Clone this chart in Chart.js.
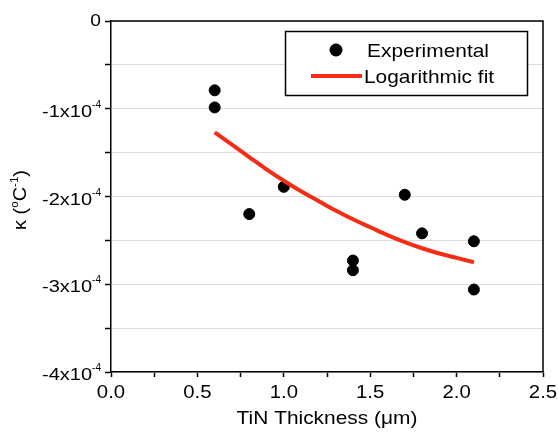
<!DOCTYPE html>
<html>
<head>
<meta charset="utf-8">
<script src="https://cdn.jsdelivr.net/npm/chart.js@4/dist/chart.umd.min.js"></script>
<style>
    html, body { margin: 0; padding: 0; background: #fff; }
</style>
</head>
<body>
<canvas id="chart" width="558" height="437"></canvas>
<script>
// Datos experimentales (TiN thickness en um, kappa en 1/°C)
var expX = [0.6, 0.6, 0.8, 1.0, 1.4, 1.4, 1.7, 1.8, 2.1, 2.1];
var expY = [-0.79e-4, -0.985e-4, -2.20e-4, -1.89e-4, -2.73e-4, -2.84e-4, -1.98e-4, -2.42e-4, -2.51e-4, -3.06e-4];

// Curva de ajuste logaritmico
var fitX = [0.6, 0.7, 0.8, 0.9, 1.0, 1.1, 1.2, 1.3, 1.4, 1.5, 1.6, 1.7, 1.8, 1.9, 2.0, 2.1];
var fitY = [-1.27e-4, -1.41e-4, -1.55e-4, -1.69e-4, -1.82e-4, -1.94e-4, -2.05e-4, -2.16e-4,
            -2.26e-4, -2.35e-4, -2.44e-4, -2.52e-4, -2.59e-4, -2.65e-4, -2.70e-4, -2.75e-4];

// Etiquetas de los ejes
var xTickValues = [0, 0.5, 1.0, 1.5, 2.0, 2.5];
var xTickLabels = ["0.0", "0.5", "1.0", "1.5", "2.0", "2.5"];
var yTickValues = [0, -1e-4, -2e-4, -3e-4, -4e-4];
var yTickMantissa = ["0", "-1", "-2", "-3", "-4"];

var FONT = "'Liberation Sans', Arial, Helvetica, sans-serif";
var FIT_COLOR = "rgb(245, 45, 20)";

function toPoints(xs, ys) {
    return xs.map(function (x, i) { return { x: x, y: ys[i] }; });
}

// Texto con estiramiento horizontal (la figura original es algo mas ancha)
function drawText(ctx, str, x, y, size, align, sx) {
    ctx.save();
    ctx.font = size + "px " + FONT;
    ctx.fillStyle = "#000";
    ctx.textBaseline = "alphabetic";
    var w = ctx.measureText(str).width * sx;
    var x0 = align === "right" ? x - w : (align === "center" ? x - w / 2 : x);
    ctx.translate(x0, y);
    ctx.scale(sx, 1);
    ctx.textAlign = "left";
    ctx.fillText(str, 0, 0);
    ctx.restore();
    return w;
}

function textWidth(ctx, str, size, sx) {
    ctx.save();
    ctx.font = size + "px " + FONT;
    var w = ctx.measureText(str).width * sx;
    ctx.restore();
    return w;
}

var decorPlugin = {
    id: "decor",
    afterDraw: function (chart) {
        var ctx = chart.ctx;
        var area = chart.chartArea;
        var xs = chart.scales.x;
        var ys = chart.scales.y;

        // Marco superior y derecho
        ctx.save();
        ctx.strokeStyle = "#000";
        ctx.lineWidth = 1.5;
        ctx.beginPath();
        ctx.moveTo(area.left, area.top);
        ctx.lineTo(area.right, area.top);
        ctx.lineTo(area.right, area.bottom);
        ctx.stroke();
        ctx.restore();

        // Etiquetas eje X
        xTickValues.forEach(function (v, i) {
            drawText(ctx, xTickLabels[i], xs.getPixelForValue(v), 398, 18, "center", 1.13);
        });

        // Etiquetas eje Y con exponente
        yTickValues.forEach(function (v, i) {
            var py = ys.getPixelForValue(v);
            var right = 101;
            if (yTickMantissa[i] === "0") {
                drawText(ctx, "0", right, py + 5, 16, "right", 1.2);
                return;
            }
            var supW = textWidth(ctx, "-4", 10, 1);
            drawText(ctx, "-4", right, py - 1, 10, "right", 1);
            drawText(ctx, yTickMantissa[i] + "x10", right - supW, py + 8, 16, "right", 1.25);
        });

        // Titulo eje X
        drawText(ctx, "TiN Thickness (\u03bcm)", (area.left + area.right) / 2, 424, 19, "center", 1.1);

        // Titulo eje Y: kappa (°C^-1), rotado
        ctx.save();
        ctx.translate(26, 200);
        ctx.rotate(-Math.PI / 2);
        var parts = [
            { t: "\u03ba (", s: 19, dy: 0 },
            { t: "o", s: 11, dy: -8 },
            { t: "C", s: 19, dy: 0 },
            { t: "-1", s: 11, dy: -8 },
            { t: ")", s: 19, dy: 0 }
        ];
        var total = 0;
        parts.forEach(function (p) { total += textWidth(ctx, p.t, p.s, 1.05); });
        var cx = -total / 2;
        parts.forEach(function (p) {
            cx += drawText(ctx, p.t, cx, p.dy, p.s, "left", 1.05);
        });
        ctx.restore();

        // Leyenda
        ctx.save();
        ctx.fillStyle = "#fff";
        ctx.fillRect(285, 31, 243, 65);
        ctx.strokeStyle = "#000";
        ctx.lineWidth = 1.5;
        ctx.strokeRect(285.5, 31.5, 242, 64);
        ctx.fillStyle = "#000";
        ctx.beginPath();
        ctx.arc(336, 50, 6.5, 0, Math.PI * 2);
        ctx.fill();
        ctx.strokeStyle = FIT_COLOR;
        ctx.lineWidth = 4;
        ctx.beginPath();
        ctx.moveTo(311, 76);
        ctx.lineTo(362, 76);
        ctx.stroke();
        ctx.restore();
        drawText(ctx, "Experimental", 367, 57, 19, "left", 1.1);
        drawText(ctx, "Logarithmic fit", 364, 83, 19, "left", 1.1);
    }
};

var ctx = document.getElementById("chart").getContext("2d");
var chart = new Chart(ctx, {
    type: "scatter",
    data: {
        datasets: [{
            label: "Logarithmic fit",
            data: toPoints(fitX, fitY),
            showLine: true,
            borderColor: FIT_COLOR,
            borderWidth: 4,
            pointRadius: 0,
            cubicInterpolationMode: "monotone",
            borderCapStyle: "butt",
            fill: false
        }, {
            label: "Experimental",
            data: toPoints(expX, expY),
            backgroundColor: "#000",
            borderColor: "#000",
            pointRadius: 5.5,
            pointHoverRadius: 5.5
        }]
    },
    options: {
        responsive: false,
        animation: false,
        devicePixelRatio: 1,
        layout: { padding: { top: 21, right: 15, left: 0, bottom: 0 } },
        plugins: {
            legend: { display: false },
            tooltip: { enabled: false }
        },
        scales: {
            x: {
                type: "linear",
                min: 0,
                max: 2.5,
                ticks: { stepSize: 0.25, autoSkip: false, display: false },
                grid: { drawOnChartArea: false, drawTicks: true, tickLength: 5, tickColor: "#000", tickWidth: 1.5 },
                border: { color: "#000", width: 1.5 },
                afterFit: function (scale) { scale.height = 65; }
            },
            y: {
                min: -4e-4,
                max: 0,
                ticks: { stepSize: 0.5e-4, display: false },
                grid: { color: "#dcdcdc", lineWidth: 1, drawTicks: true, tickLength: 6, tickColor: "#000", tickWidth: 1.5 },
                border: { color: "#000", width: 1.5 },
                afterFit: function (scale) { scale.width = 111; }
            }
        }
    },
    plugins: [decorPlugin]
});
</script>
</body>
</html>
